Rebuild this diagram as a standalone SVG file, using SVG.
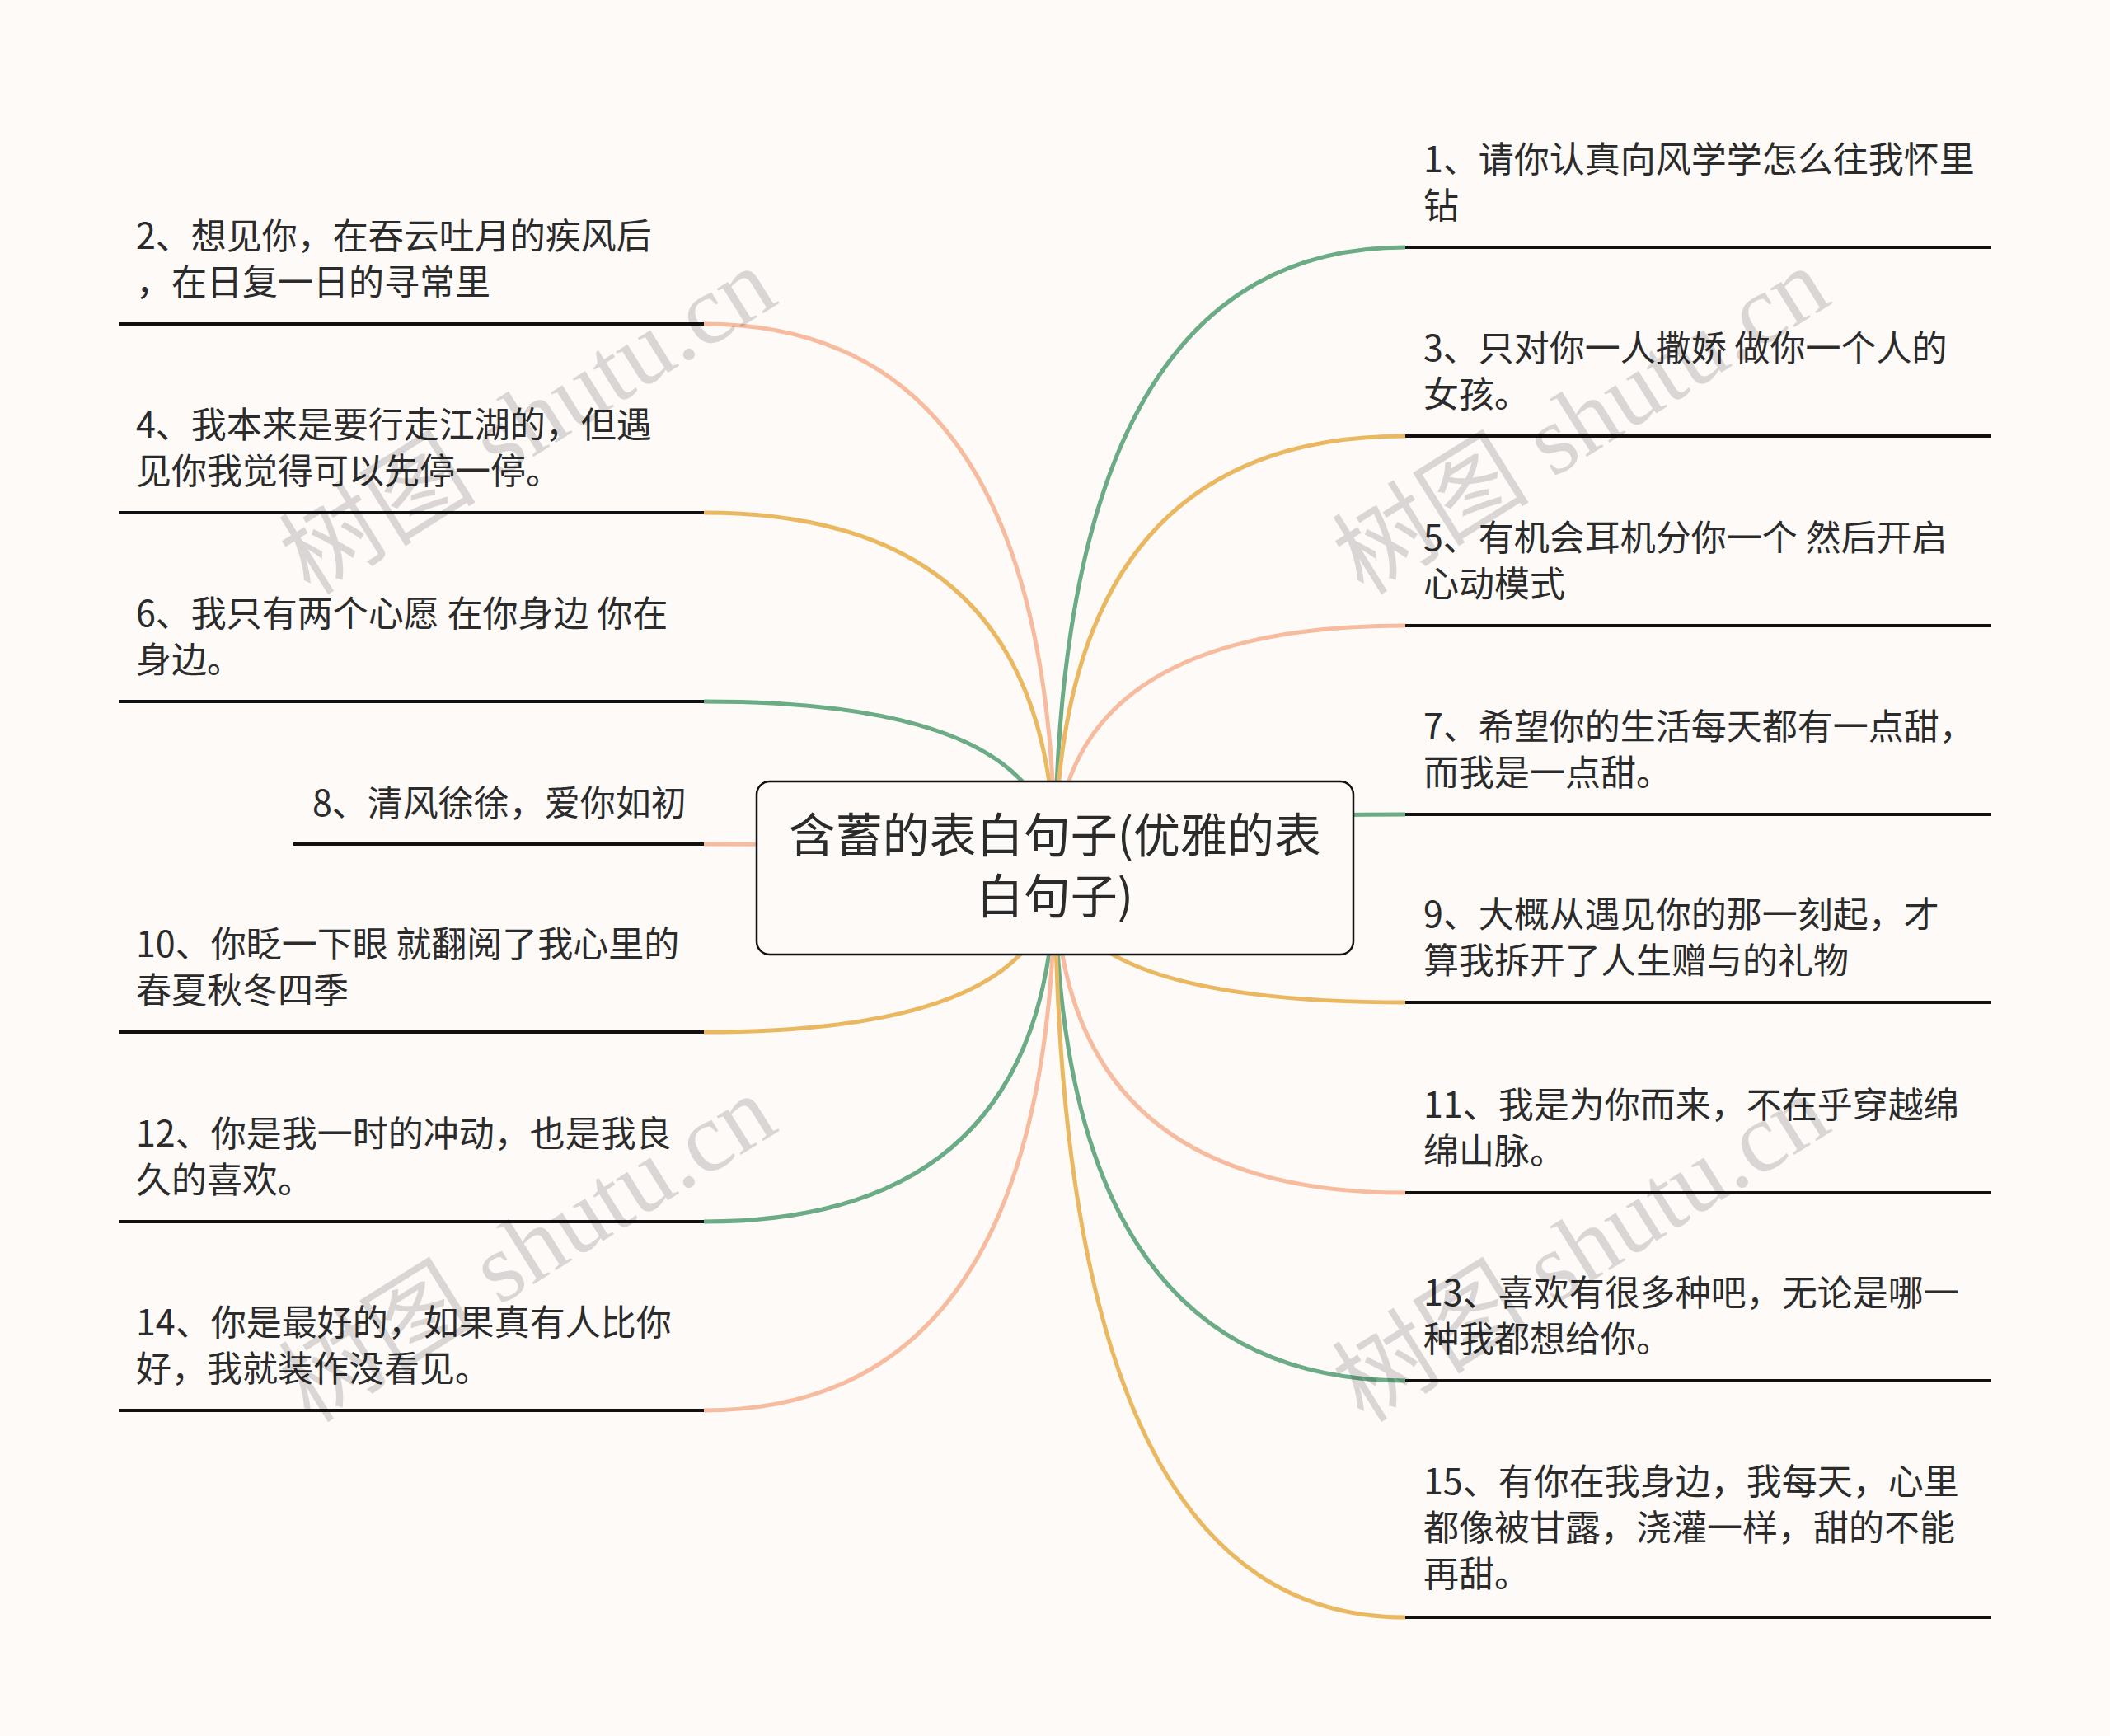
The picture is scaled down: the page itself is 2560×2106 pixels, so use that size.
<svg xmlns="http://www.w3.org/2000/svg" width="2560" height="2106" viewBox="0 0 2560 2106">
<style>
.bg{fill:#FDFAF8}
.c{fill:none;stroke-width:5;stroke-linecap:butt}
.g{stroke:#6BAB85}
.y{stroke:#EBB862}
.s{stroke:#F7BC9F}
.ul{stroke:#111;stroke-width:4}
.t{font-family:"Noto Sans CJK SC","Noto Sans",sans-serif;font-size:43px;fill:#2b2b2b}
.root{fill:#FDFAF8;stroke:#111;stroke-width:2.5}
.rt{font-family:"Noto Sans CJK SC","Noto Sans",sans-serif;font-size:57px;fill:#2b2b2b;text-anchor:middle}
.wm{font-family:"Liberation Serif","Noto Sans CJK SC",serif;font-size:120px;fill:#000;fill-opacity:0.14;text-anchor:middle}
</style>
<rect class="bg" x="0" y="0" width="2560" height="2106"/>
<g id="connectors">
<path class="c g" d="M1705 300 Q1280 300 1280 1052"/>
<path class="c s" d="M854 393 Q1280 393 1280 1052"/>
<path class="c y" d="M1705 529 Q1280 529 1280 1052"/>
<path class="c y" d="M854 622 Q1280 622 1280 1052"/>
<path class="c s" d="M1705 759 Q1280 759 1280 1052"/>
<path class="c g" d="M854 851 Q1280 851 1280 1052"/>
<path class="c g" d="M1705 988 Q1280 988 1280 1052"/>
<path class="c s" d="M854 1024 Q1280 1024 1280 1052"/>
<path class="c y" d="M1705 1216 Q1280 1216 1280 1052"/>
<path class="c y" d="M854 1252 Q1280 1252 1280 1052"/>
<path class="c s" d="M1705 1447 Q1280 1447 1280 1052"/>
<path class="c g" d="M854 1482 Q1280 1482 1280 1052"/>
<path class="c g" d="M1705 1675 Q1280 1675 1280 1052"/>
<path class="c s" d="M854 1711 Q1280 1711 1280 1052"/>
<path class="c y" d="M1705 1962 Q1280 1962 1280 1052"/>
</g>
<g id="root">
<rect class="root" x="918" y="948" width="724" height="210" rx="16"/>
<text class="rt" x="1280" y="1034">含蓄的表白句子(优雅的表</text>
<text class="rt" x="1280" y="1108">白句子)</text>
</g>
<g id="n1"><line class="ul" x1="1705" y1="300" x2="2416" y2="300"/><text class="t" x="1727" y="209">1、请你认真向风学学怎么往我怀里</text><text class="t" x="1727" y="265">钻</text></g>
<g id="n2"><line class="ul" x1="144" y1="393" x2="854" y2="393"/><text class="t" x="165" y="302">2、想见你，在吞云吐月的疾风后</text><text class="t" x="165" y="358">，在日复一日的寻常里</text></g>
<g id="n3"><line class="ul" x1="1705" y1="529" x2="2416" y2="529"/><text class="t" x="1727" y="438">3、只对你一人撒娇 做你一个人的</text><text class="t" x="1727" y="494">女孩。</text></g>
<g id="n4"><line class="ul" x1="144" y1="622" x2="854" y2="622"/><text class="t" x="165" y="531">4、我本来是要行走江湖的，但遇</text><text class="t" x="165" y="587">见你我觉得可以先停一停。</text></g>
<g id="n5"><line class="ul" x1="1705" y1="759" x2="2416" y2="759"/><text class="t" x="1727" y="668">5、有机会耳机分你一个 然后开启</text><text class="t" x="1727" y="724">心动模式</text></g>
<g id="n6"><line class="ul" x1="144" y1="851" x2="854" y2="851"/><text class="t" x="165" y="760">6、我只有两个心愿 在你身边 你在</text><text class="t" x="165" y="816">身边。</text></g>
<g id="n7"><line class="ul" x1="1705" y1="988" x2="2416" y2="988"/><text class="t" x="1727" y="897">7、希望你的生活每天都有一点甜，</text><text class="t" x="1727" y="953">而我是一点甜。</text></g>
<g id="n8"><line class="ul" x1="356" y1="1024" x2="854" y2="1024"/><text class="t" x="379" y="990">8、清风徐徐，爱你如初</text></g>
<g id="n9"><line class="ul" x1="1705" y1="1216" x2="2416" y2="1216"/><text class="t" x="1727" y="1125">9、大概从遇见你的那一刻起，才</text><text class="t" x="1727" y="1181">算我拆开了人生赠与的礼物</text></g>
<g id="n10"><line class="ul" x1="144" y1="1252" x2="854" y2="1252"/><text class="t" x="165" y="1161">10、你眨一下眼 就翻阅了我心里的</text><text class="t" x="165" y="1217">春夏秋冬四季</text></g>
<g id="n11"><line class="ul" x1="1705" y1="1447" x2="2416" y2="1447"/><text class="t" x="1727" y="1356">11、我是为你而来，不在乎穿越绵</text><text class="t" x="1727" y="1412">绵山脉。</text></g>
<g id="n12"><line class="ul" x1="144" y1="1482" x2="854" y2="1482"/><text class="t" x="165" y="1391">12、你是我一时的冲动，也是我良</text><text class="t" x="165" y="1447">久的喜欢。</text></g>
<g id="n13"><line class="ul" x1="1705" y1="1675" x2="2416" y2="1675"/><text class="t" x="1727" y="1584">13、喜欢有很多种吧，无论是哪一</text><text class="t" x="1727" y="1640">种我都想给你。</text></g>
<g id="n14"><line class="ul" x1="144" y1="1711" x2="854" y2="1711"/><text class="t" x="165" y="1620">14、你是最好的，如果真有人比你</text><text class="t" x="165" y="1676">好，我就装作没看见。</text></g>
<g id="n15"><line class="ul" x1="1705" y1="1962" x2="2416" y2="1962"/><text class="t" x="1727" y="1813">15、有你在我身边，我每天，心里</text><text class="t" x="1727" y="1869">都像被甘露，浇灌一样，甜的不能</text><text class="t" x="1727" y="1925">再甜。</text></g>
<g id="watermarks">
<text class="wm" transform="translate(662 545) rotate(-32)">树图 shutu.cn</text>
<text class="wm" transform="translate(1940 545) rotate(-32)">树图 shutu.cn</text>
<text class="wm" transform="translate(662 1549) rotate(-32)">树图 shutu.cn</text>
<text class="wm" transform="translate(1940 1549) rotate(-32)">树图 shutu.cn</text>
</g>
</svg>
